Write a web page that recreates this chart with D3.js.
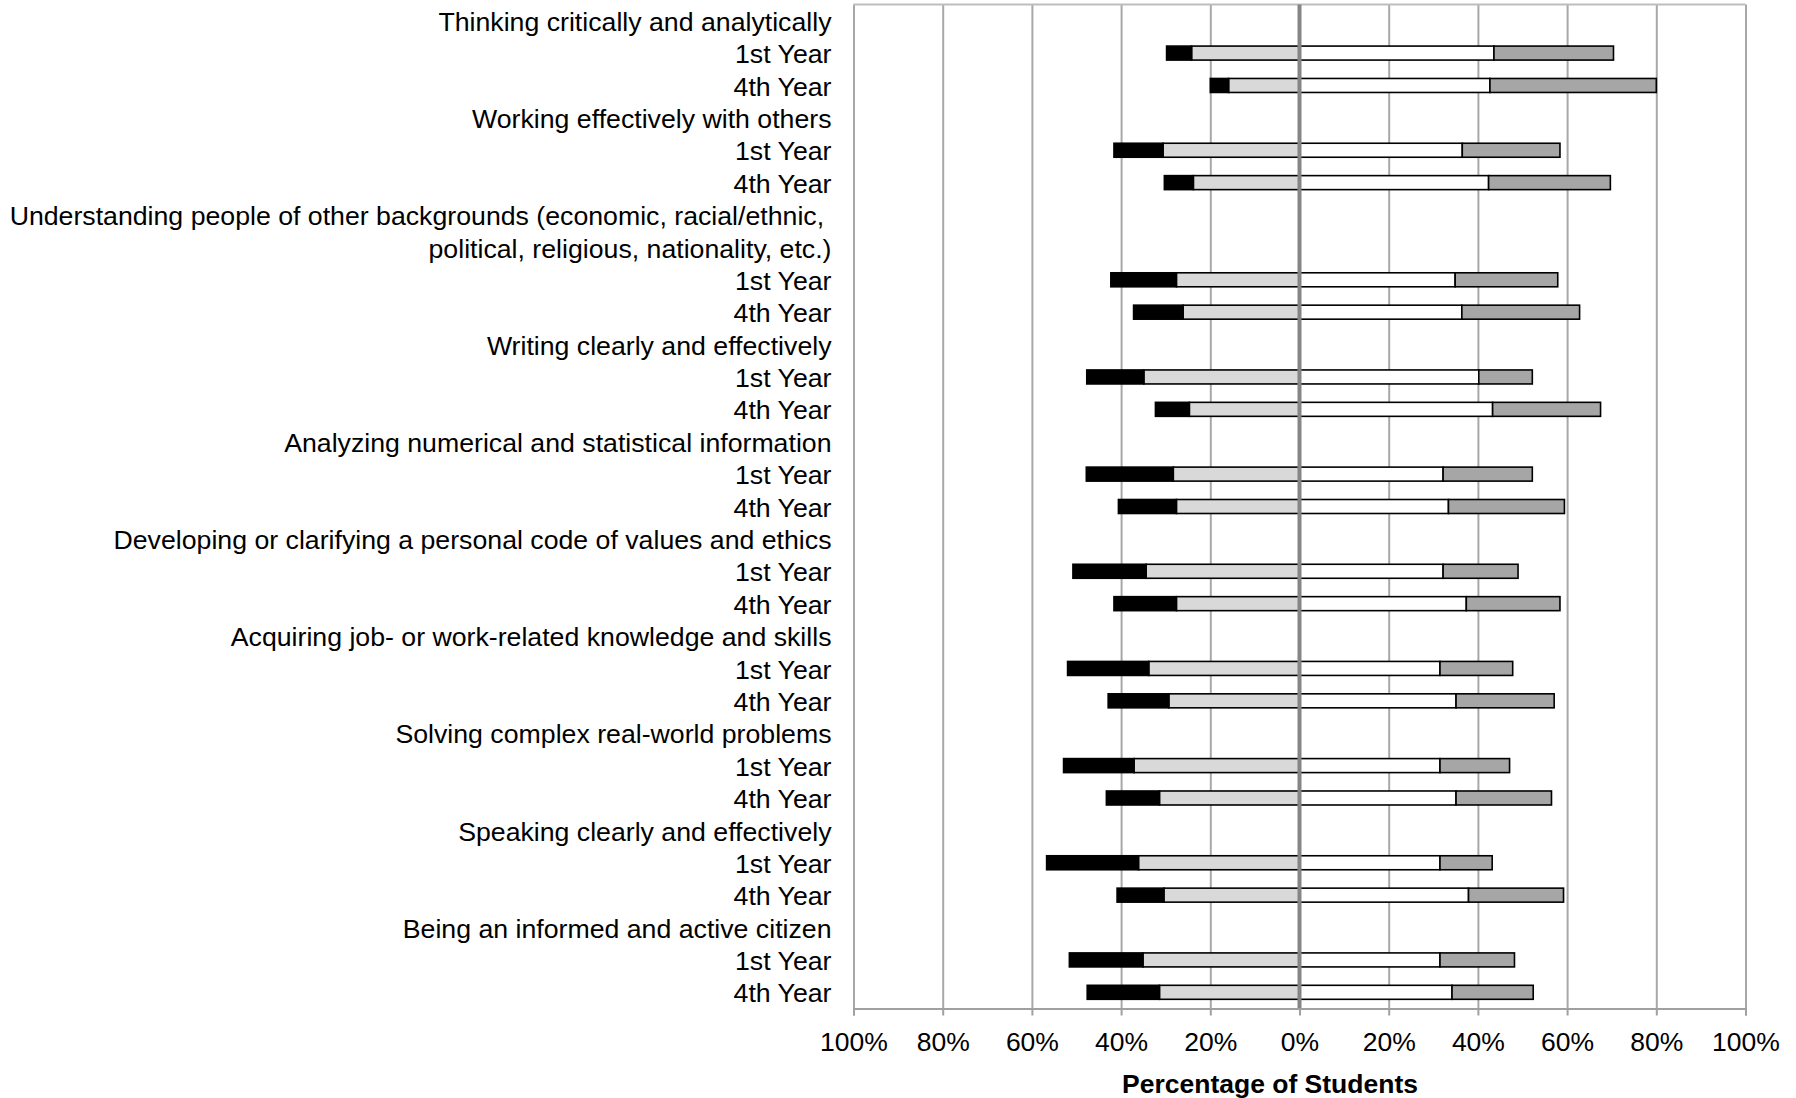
<!DOCTYPE html>
<html>
<head>
<meta charset="utf-8">
<script src="https://cdn.jsdelivr.net/npm/d3@7"></script>
<style>
  html, body { margin: 0; padding: 0; background: #fff; }
  svg { display: block; }
  text { font-family: "Liberation Sans", Arial, sans-serif; fill: #000; }
</style>
</head>
<body>
<svg id="chart" width="1796" height="1098"></svg>
<script>
// Skill areas (one entry per skill, each a list of label lines)
const skillLabels = [
  ["Thinking critically and analytically"],
  ["Working effectively with others"],
  ["Understanding people of other backgrounds (economic, racial/ethnic, ", "political, religious, nationality, etc.)"],
  ["Writing clearly and effectively"],
  ["Analyzing numerical and statistical information"],
  ["Developing or clarifying a personal code of values and ethics"],
  ["Acquiring job- or work-related knowledge and skills"],
  ["Solving complex real-world problems"],
  ["Speaking clearly and effectively"],
  ["Being an informed and active citizen"]
];
const years = ["1st Year", "4th Year"];
const responses = ["Very little", "Some", "Quite a bit", "Very much"];

// Percent of students per skill, as [1st Year, 4th Year]
const veryLittle = [[5.6, 4.1], [11.0, 6.5], [14.7, 11.1], [12.8, 7.6], [19.5, 13.0],
                    [16.4, 14.0], [18.2, 13.6], [15.8, 11.9], [20.6, 10.5], [16.5, 16.2]];
const some       = [[24.2, 15.9], [30.6, 23.8], [27.6, 26.1], [34.9, 24.7], [28.3, 27.6],
                    [34.4, 27.6], [33.8, 29.3], [37.1, 31.4], [36.1, 30.4], [35.1, 31.4]];
const quiteABit  = [[43.6, 42.7], [36.5, 42.4], [34.9, 36.4], [40.2, 43.3], [32.2, 33.4],
                    [32.2, 37.4], [31.5, 35.1], [31.5, 35.1], [31.5, 37.9], [31.5, 34.2]];
const veryMuch   = [[26.8, 37.3], [21.9, 27.3], [23.0, 26.4], [12.0, 24.2], [20.0, 26.0],
                    [16.8, 21.0], [16.3, 22.0], [15.6, 21.4], [11.7, 21.3], [16.7, 18.2]];

const tickValues = [-100, -80, -60, -40, -20, 0, 20, 40, 60, 80, 100];
const axisTitle = "Percentage of Students";

// Build one row per label line; year rows carry the data
const rows = [];
skillLabels.forEach((lines, s) => {
  lines.forEach((line, l) => rows.push({ key: `h${s}-${l}`, label: line, header: true }));
  years.forEach((yr, y) => rows.push({
    key: `d${s}-${y}`, label: yr, header: false,
    vl: veryLittle[s][y], so: some[s][y], qb: quiteABit[s][y], vm: veryMuch[s][y]
  }));
});

const svg = d3.select("#chart");
const plot = { left: 853.5, right: 1745.5, top: 4.5, bottom: 1008.5 };
const fontSize = 26.5;
const labelFontSize = 26.7;
const barH = 14;

const x = d3.scaleLinear().domain([-100, 100]).range([plot.left, plot.right]);
const y = d3.scaleBand().domain(rows.map(r => r.key)).range([plot.top, plot.bottom]).padding(0);

// Vertical gridlines
svg.append("g")
  .attr("transform", `translate(0,${plot.bottom})`)
  .call(d3.axisBottom(x).tickValues(tickValues).tickSize(-(plot.bottom - plot.top)).tickFormat(""))
  .call(g => g.select(".domain").remove())
  .call(g => g.selectAll("line").attr("stroke", "#a8a8a8").attr("stroke-width", 2));

// Top border of the plot area
svg.append("line")
  .attr("x1", plot.left).attr("x2", plot.right)
  .attr("y1", plot.top).attr("y2", plot.top)
  .attr("stroke", "#bdbdbd").attr("stroke-width", 2);

// Diverging stacked bars
const segColors = { vl: "#000000", so: "#d9d9d9", qb: "#ffffff", vm: "#a6a6a6" };
const dataRows = rows.filter(r => !r.header);
const segs = [];
dataRows.forEach(r => {
  segs.push({ row: r, k: "so", x0: -r.so, x1: 0 });
  segs.push({ row: r, k: "vl", x0: -(r.so + r.vl), x1: -r.so });
  segs.push({ row: r, k: "qb", x0: 0, x1: r.qb });
  segs.push({ row: r, k: "vm", x0: r.qb, x1: r.qb + r.vm });
});
svg.append("g").selectAll("rect").data(segs).join("rect")
  .attr("x", d => x(d.x0))
  .attr("width", d => x(d.x1) - x(d.x0))
  .attr("y", d => y(d.row.key) + y.bandwidth() / 2 - barH / 2)
  .attr("height", barH)
  .attr("fill", d => segColors[d.k])
  .attr("stroke", "#000")
  .attr("stroke-width", 1.6);

// Centre (0%) axis line
svg.append("line")
  .attr("x1", x(0)).attr("x2", x(0))
  .attr("y1", plot.top).attr("y2", plot.bottom)
  .attr("stroke", "#858585").attr("stroke-width", 4);

// Bottom axis
svg.append("g")
  .attr("transform", `translate(0,${plot.bottom})`)
  .call(d3.axisBottom(x).tickValues(tickValues).tickSize(7).tickPadding(17)
    .tickFormat(d => Math.abs(d) + "%"))
  .call(g => g.select(".domain").attr("stroke", "#a0a0a0").attr("stroke-width", 2))
  .call(g => g.selectAll("line").attr("stroke", "#a0a0a0").attr("stroke-width", 2))
  .call(g => g.selectAll("text")
    .style("font-family", "'Liberation Sans', Arial, sans-serif")
    .style("font-size", fontSize + "px").attr("fill", "#000"));

// Row labels
svg.append("g").selectAll("text").data(rows).join("text")
  .attr("x", 831.5)
  .attr("y", r => y(r.key) + y.bandwidth() / 2)
  .attr("dy", "0.38em")
  .attr("text-anchor", "end")
  .style("white-space", "pre")
  .style("font-size", labelFontSize + "px")
  .text(r => r.label);

// Axis title
svg.append("text")
  .attr("x", 1270).attr("y", 1093)
  .attr("text-anchor", "middle")
  .style("font-size", fontSize + "px")
  .style("font-weight", "bold")
  .text(axisTitle);
</script>
</body>
</html>
